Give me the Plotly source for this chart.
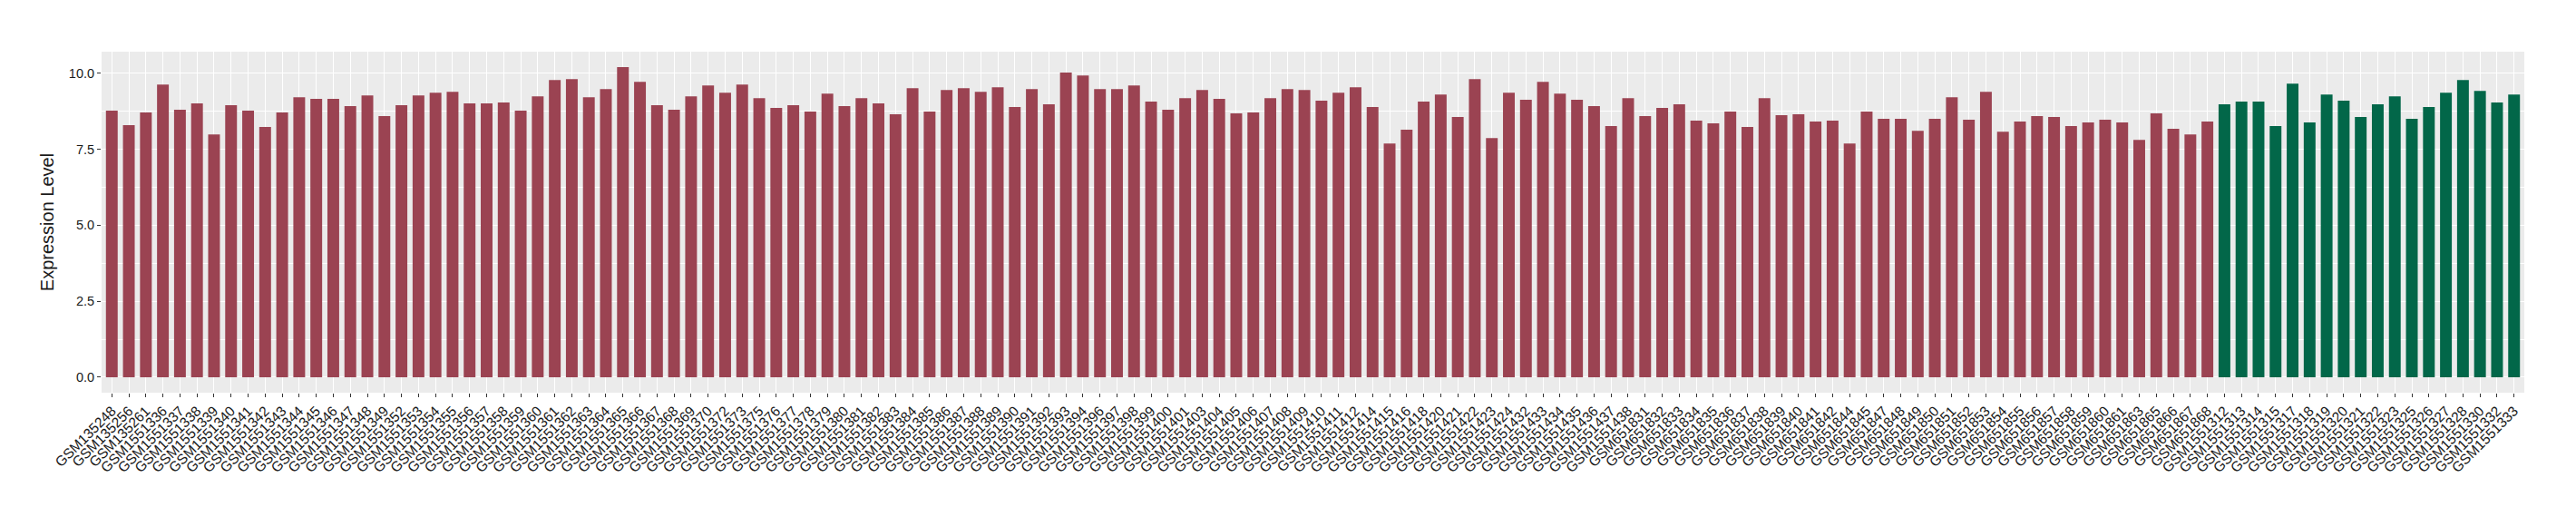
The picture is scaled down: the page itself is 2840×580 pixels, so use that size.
import plotly.graph_objects as go

# ---- data ----
samples_group1 = [
    "GSM135248", "GSM135256", "GSM135261", "GSM1551336", "GSM1551337", "GSM1551338",
    "GSM1551339", "GSM1551340", "GSM1551341", "GSM1551342", "GSM1551343", "GSM1551344",
    "GSM1551345", "GSM1551346", "GSM1551347", "GSM1551348", "GSM1551349", "GSM1551352",
    "GSM1551353", "GSM1551354", "GSM1551355", "GSM1551356", "GSM1551357", "GSM1551358",
    "GSM1551359", "GSM1551360", "GSM1551361", "GSM1551362", "GSM1551363", "GSM1551364",
    "GSM1551365", "GSM1551366", "GSM1551367", "GSM1551368", "GSM1551369", "GSM1551370",
    "GSM1551372", "GSM1551373", "GSM1551375", "GSM1551376", "GSM1551377", "GSM1551378",
    "GSM1551379", "GSM1551380", "GSM1551381", "GSM1551382", "GSM1551383", "GSM1551384",
    "GSM1551385", "GSM1551386", "GSM1551387", "GSM1551388", "GSM1551389", "GSM1551390",
    "GSM1551391", "GSM1551392", "GSM1551393", "GSM1551394", "GSM1551396", "GSM1551397",
    "GSM1551398", "GSM1551399", "GSM1551400", "GSM1551401", "GSM1551403", "GSM1551404",
    "GSM1551405", "GSM1551406", "GSM1551407", "GSM1551408", "GSM1551409", "GSM1551410",
    "GSM1551411", "GSM1551412", "GSM1551414", "GSM1551415", "GSM1551416", "GSM1551418",
    "GSM1551420", "GSM1551421", "GSM1551422", "GSM1551423", "GSM1551424", "GSM1551432",
    "GSM1551433", "GSM1551434", "GSM1551435", "GSM1551436", "GSM1551437", "GSM1551438",
    "GSM651831", "GSM651832", "GSM651833", "GSM651834", "GSM651835", "GSM651836",
    "GSM651837", "GSM651838", "GSM651839", "GSM651840", "GSM651841", "GSM651842",
    "GSM651844", "GSM651845", "GSM651847", "GSM651848", "GSM651849", "GSM651850",
    "GSM651851", "GSM651852", "GSM651853", "GSM651854", "GSM651855", "GSM651856",
    "GSM651857", "GSM651858", "GSM651859", "GSM651860", "GSM651861", "GSM651863",
    "GSM651865", "GSM651866", "GSM651867", "GSM651868",
]
values_group1 = [
    8.77, 8.29, 8.71, 9.63, 8.80, 9.01,
    7.99, 8.95, 8.77, 8.23, 8.71, 9.21,
    9.16, 9.16, 8.92, 9.27, 8.59, 8.95,
    9.27, 9.36, 9.39, 9.01, 9.01, 9.04,
    8.77, 9.24, 9.78, 9.81, 9.21, 9.48,
    10.20, 9.72, 8.95, 8.80, 9.24, 9.60,
    9.36, 9.63, 9.18, 8.86, 8.95, 8.74,
    9.33, 8.92, 9.18, 9.01, 8.65, 9.51,
    8.74, 9.45, 9.51, 9.39, 9.54, 8.89,
    9.48, 8.98, 10.02, 9.93, 9.48, 9.48,
    9.60, 9.07, 8.80, 9.18, 9.45, 9.16,
    8.68, 8.71, 9.18, 9.48, 9.45, 9.10,
    9.36, 9.54, 8.89, 7.69, 8.14, 9.07,
    9.30, 8.56, 9.81, 7.87, 9.36, 9.13,
    9.72, 9.33, 9.13, 8.92, 8.26, 9.18,
    8.59, 8.86, 8.98, 8.44, 8.35, 8.74,
    8.23, 9.18, 8.62, 8.65, 8.41, 8.44,
    7.69, 8.74, 8.50, 8.50, 8.11, 8.50,
    9.21, 8.47, 9.39, 8.08, 8.41, 8.59,
    8.56, 8.26, 8.38, 8.47, 8.38, 7.81,
    8.68, 8.17, 7.99, 8.41,
]
samples_group2 = [
    "GSM1551312", "GSM1551313", "GSM1551314", "GSM1551315", "GSM1551317", "GSM1551318",
    "GSM1551319", "GSM1551320", "GSM1551321", "GSM1551322", "GSM1551323", "GSM1551325",
    "GSM1551326", "GSM1551327", "GSM1551328", "GSM1551330", "GSM1551332", "GSM1551333",
]
values_group2 = [
    8.98, 9.07, 9.07, 8.26, 9.66, 8.38,
    9.30, 9.10, 8.56, 8.98, 9.24, 8.50,
    8.89, 9.36, 9.78, 9.42, 9.04, 9.30,
]
y_ticks = [0.0, 2.5, 5.0, 7.5, 10.0]
y_tick_labels = ["0.0", "2.5", "5.0", "7.5", "10.0"]

color_group1 = "#9B4352"
color_group2 = "#026749"

all_samples = samples_group1 + samples_group2
n = len(all_samples)
ymax = max(values_group1 + values_group2)

fig = go.Figure()
fig.add_trace(go.Bar(x=samples_group1, y=values_group1, marker=dict(color=color_group1, line=dict(width=0)),
                     showlegend=False))
fig.add_trace(go.Bar(x=samples_group2, y=values_group2, marker=dict(color=color_group2, line=dict(width=0)),
                     showlegend=False))

fig.update_layout(
    width=2840, height=580,
    margin=dict(l=112, r=57, t=57, b=147),
    paper_bgcolor="white",
    plot_bgcolor="#EBEBEB",
    barmode="overlay",
    bargap=0.31,
    font=dict(family="Liberation Sans, Arial, sans-serif", color="#1a1a1a"),
    xaxis=dict(
        type="category",
        categoryorder="array",
        categoryarray=all_samples,
        range=[-0.6, n - 1 + 0.6],
        tickmode="array", tickvals=all_samples, ticktext=all_samples,
        tickangle=-45,
        tickfont=dict(size=15.5, color="#1a1a1a"),
        ticks="outside", ticklen=4, tickcolor="#333333", tickwidth=1,
        showgrid=True, gridcolor="white", gridwidth=1.2,
        showline=False, zeroline=False,
        automargin=False,
    ),
    yaxis=dict(
        range=[-0.05 * ymax, 1.05 * ymax],
        tickmode="array", tickvals=y_ticks, ticktext=y_tick_labels,
        tickfont=dict(size=14.5, color="#1a1a1a"),
        ticks="outside", ticklen=4, tickcolor="#333333", tickwidth=1,
        showgrid=True, gridcolor="white", gridwidth=1.2,
        minor=dict(tickmode="array", tickvals=[1.25, 3.75, 6.25, 8.75], showgrid=True,
                   gridcolor="white", gridwidth=0.6, ticks=""),
        zeroline=False, showline=False,
        automargin=False,
        title=dict(text="Expression Level", font=dict(size=20, color="#1a1a1a"), standoff=10),
    ),
)

fig.write_html("out.html", config={"displayModeBar": False},
               post_script="document.body.style.margin='0';")
